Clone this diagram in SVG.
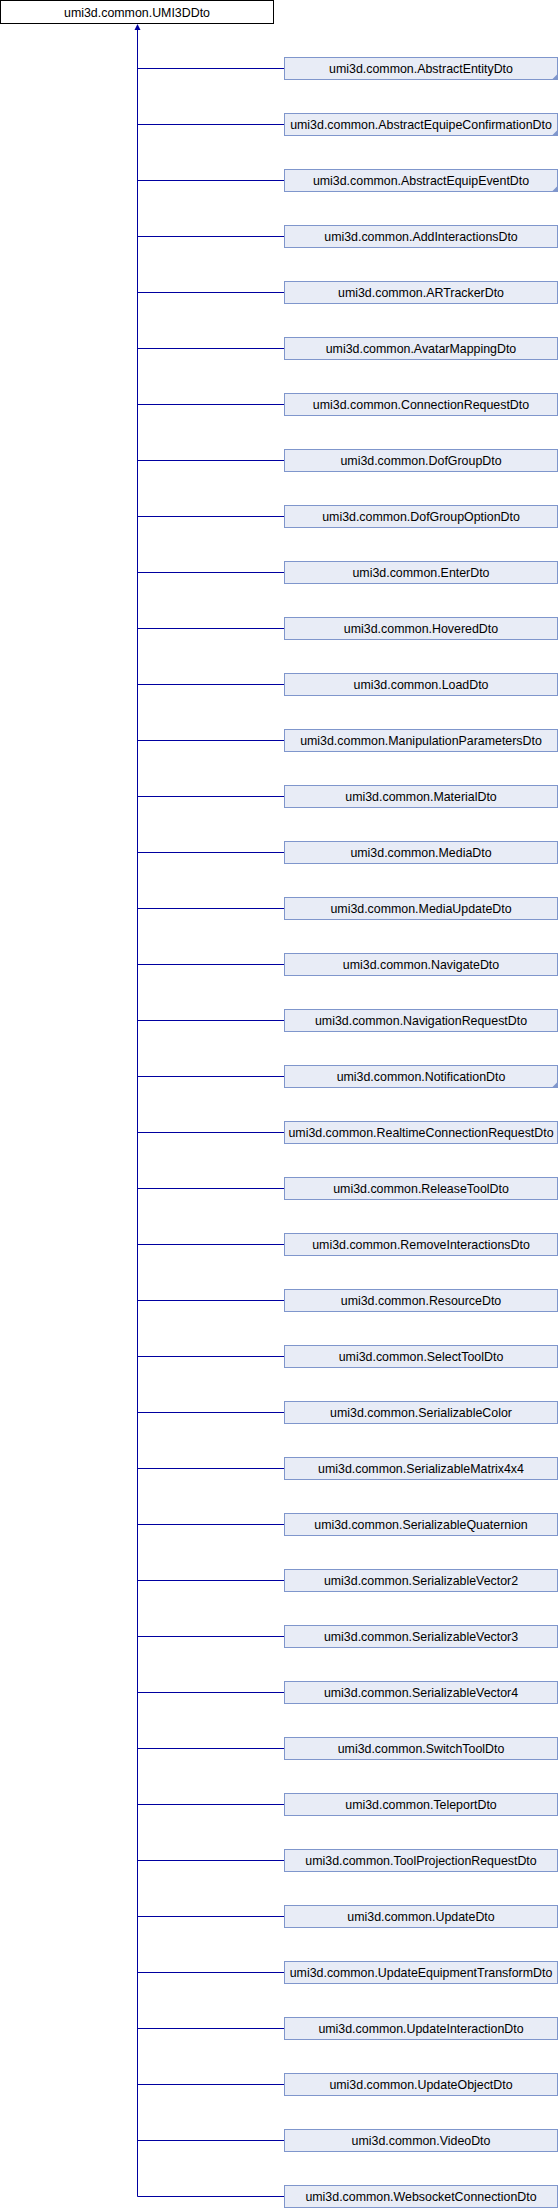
<svg xmlns="http://www.w3.org/2000/svg" width="558" height="2208" viewBox="0 0 558 2208">
<style>
text{font-family:"Liberation Sans",Arial,sans-serif;font-size:12.4px;fill:#000;text-anchor:middle}
.c rect{fill:#e8ecf6;stroke:#7f96cc;stroke-width:1}
.c polygon{fill:#7f96cc}
.conn{stroke:#0000a0;stroke-width:1;fill:none}
</style>
<rect width="558" height="2208" fill="#fff"/>
<g id="connectors">
<path class="conn" d="M137.5,29V2196.5 M137.5,68.5H284 M137.5,124.5H284 M137.5,180.5H284 M137.5,236.5H284 M137.5,292.5H284 M137.5,348.5H284 M137.5,404.5H284 M137.5,460.5H284 M137.5,516.5H284 M137.5,572.5H284 M137.5,628.5H284 M137.5,684.5H284 M137.5,740.5H284 M137.5,796.5H284 M137.5,852.5H284 M137.5,908.5H284 M137.5,964.5H284 M137.5,1020.5H284 M137.5,1076.5H284 M137.5,1132.5H284 M137.5,1188.5H284 M137.5,1244.5H284 M137.5,1300.5H284 M137.5,1356.5H284 M137.5,1412.5H284 M137.5,1468.5H284 M137.5,1524.5H284 M137.5,1580.5H284 M137.5,1636.5H284 M137.5,1692.5H284 M137.5,1748.5H284 M137.5,1804.5H284 M137.5,1860.5H284 M137.5,1916.5H284 M137.5,1972.5H284 M137.5,2028.5H284 M137.5,2084.5H284 M137.5,2140.5H284 M137.5,2196.5H284"/>
<polygon points="137.5,24 140.5,30 134.5,30" fill="#0000a0"/>
</g>
<g id="root">
<rect x="0.5" y="0.5" width="273" height="23" fill="#fff" stroke="#000"/>
<text x="137" y="16.5">umi3d.common.UMI3DDto</text>
</g>
<g id="n1" class="c"><rect x="284.5" y="57.5" width="273" height="22"/><polygon points="558,73.5 558,80 551.5,80"/><text x="421" y="73">umi3d.common.AbstractEntityDto</text></g>
<g id="n2" class="c" transform="translate(0,56)"><rect x="284.5" y="57.5" width="273" height="22"/><polygon points="558,73.5 558,80 551.5,80"/><text x="421" y="73">umi3d.common.AbstractEquipeConfirmationDto</text></g>
<g id="n3" class="c" transform="translate(0,112)"><rect x="284.5" y="57.5" width="273" height="22"/><polygon points="558,73.5 558,80 551.5,80"/><text x="421" y="73">umi3d.common.AbstractEquipEventDto</text></g>
<g id="n4" class="c" transform="translate(0,168)"><rect x="284.5" y="57.5" width="273" height="22"/><text x="421" y="73">umi3d.common.AddInteractionsDto</text></g>
<g id="n5" class="c" transform="translate(0,224)"><rect x="284.5" y="57.5" width="273" height="22"/><text x="421" y="73">umi3d.common.ARTrackerDto</text></g>
<g id="n6" class="c" transform="translate(0,280)"><rect x="284.5" y="57.5" width="273" height="22"/><text x="421" y="73">umi3d.common.AvatarMappingDto</text></g>
<g id="n7" class="c" transform="translate(0,336)"><rect x="284.5" y="57.5" width="273" height="22"/><text x="421" y="73">umi3d.common.ConnectionRequestDto</text></g>
<g id="n8" class="c" transform="translate(0,392)"><rect x="284.5" y="57.5" width="273" height="22"/><text x="421" y="73">umi3d.common.DofGroupDto</text></g>
<g id="n9" class="c" transform="translate(0,448)"><rect x="284.5" y="57.5" width="273" height="22"/><text x="421" y="73">umi3d.common.DofGroupOptionDto</text></g>
<g id="n10" class="c" transform="translate(0,504)"><rect x="284.5" y="57.5" width="273" height="22"/><text x="421" y="73">umi3d.common.EnterDto</text></g>
<g id="n11" class="c" transform="translate(0,560)"><rect x="284.5" y="57.5" width="273" height="22"/><text x="421" y="73">umi3d.common.HoveredDto</text></g>
<g id="n12" class="c" transform="translate(0,616)"><rect x="284.5" y="57.5" width="273" height="22"/><text x="421" y="73">umi3d.common.LoadDto</text></g>
<g id="n13" class="c" transform="translate(0,672)"><rect x="284.5" y="57.5" width="273" height="22"/><text x="421" y="73">umi3d.common.ManipulationParametersDto</text></g>
<g id="n14" class="c" transform="translate(0,728)"><rect x="284.5" y="57.5" width="273" height="22"/><text x="421" y="73">umi3d.common.MaterialDto</text></g>
<g id="n15" class="c" transform="translate(0,784)"><rect x="284.5" y="57.5" width="273" height="22"/><text x="421" y="73">umi3d.common.MediaDto</text></g>
<g id="n16" class="c" transform="translate(0,840)"><rect x="284.5" y="57.5" width="273" height="22"/><text x="421" y="73">umi3d.common.MediaUpdateDto</text></g>
<g id="n17" class="c" transform="translate(0,896)"><rect x="284.5" y="57.5" width="273" height="22"/><text x="421" y="73">umi3d.common.NavigateDto</text></g>
<g id="n18" class="c" transform="translate(0,952)"><rect x="284.5" y="57.5" width="273" height="22"/><text x="421" y="73">umi3d.common.NavigationRequestDto</text></g>
<g id="n19" class="c" transform="translate(0,1008)"><rect x="284.5" y="57.5" width="273" height="22"/><polygon points="558,73.5 558,80 551.5,80"/><text x="421" y="73">umi3d.common.NotificationDto</text></g>
<g id="n20" class="c" transform="translate(0,1064)"><rect x="284.5" y="57.5" width="273" height="22"/><text x="421" y="73">umi3d.common.RealtimeConnectionRequestDto</text></g>
<g id="n21" class="c" transform="translate(0,1120)"><rect x="284.5" y="57.5" width="273" height="22"/><text x="421" y="73">umi3d.common.ReleaseToolDto</text></g>
<g id="n22" class="c" transform="translate(0,1176)"><rect x="284.5" y="57.5" width="273" height="22"/><text x="421" y="73">umi3d.common.RemoveInteractionsDto</text></g>
<g id="n23" class="c" transform="translate(0,1232)"><rect x="284.5" y="57.5" width="273" height="22"/><text x="421" y="73">umi3d.common.ResourceDto</text></g>
<g id="n24" class="c" transform="translate(0,1288)"><rect x="284.5" y="57.5" width="273" height="22"/><text x="421" y="73">umi3d.common.SelectToolDto</text></g>
<g id="n25" class="c" transform="translate(0,1344)"><rect x="284.5" y="57.5" width="273" height="22"/><text x="421" y="73">umi3d.common.SerializableColor</text></g>
<g id="n26" class="c" transform="translate(0,1400)"><rect x="284.5" y="57.5" width="273" height="22"/><text x="421" y="73">umi3d.common.SerializableMatrix4x4</text></g>
<g id="n27" class="c" transform="translate(0,1456)"><rect x="284.5" y="57.5" width="273" height="22"/><text x="421" y="73">umi3d.common.SerializableQuaternion</text></g>
<g id="n28" class="c" transform="translate(0,1512)"><rect x="284.5" y="57.5" width="273" height="22"/><text x="421" y="73">umi3d.common.SerializableVector2</text></g>
<g id="n29" class="c" transform="translate(0,1568)"><rect x="284.5" y="57.5" width="273" height="22"/><text x="421" y="73">umi3d.common.SerializableVector3</text></g>
<g id="n30" class="c" transform="translate(0,1624)"><rect x="284.5" y="57.5" width="273" height="22"/><text x="421" y="73">umi3d.common.SerializableVector4</text></g>
<g id="n31" class="c" transform="translate(0,1680)"><rect x="284.5" y="57.5" width="273" height="22"/><text x="421" y="73">umi3d.common.SwitchToolDto</text></g>
<g id="n32" class="c" transform="translate(0,1736)"><rect x="284.5" y="57.5" width="273" height="22"/><text x="421" y="73">umi3d.common.TeleportDto</text></g>
<g id="n33" class="c" transform="translate(0,1792)"><rect x="284.5" y="57.5" width="273" height="22"/><text x="421" y="73">umi3d.common.ToolProjectionRequestDto</text></g>
<g id="n34" class="c" transform="translate(0,1848)"><rect x="284.5" y="57.5" width="273" height="22"/><text x="421" y="73">umi3d.common.UpdateDto</text></g>
<g id="n35" class="c" transform="translate(0,1904)"><rect x="284.5" y="57.5" width="273" height="22"/><text x="421" y="73">umi3d.common.UpdateEquipmentTransformDto</text></g>
<g id="n36" class="c" transform="translate(0,1960)"><rect x="284.5" y="57.5" width="273" height="22"/><text x="421" y="73">umi3d.common.UpdateInteractionDto</text></g>
<g id="n37" class="c" transform="translate(0,2016)"><rect x="284.5" y="57.5" width="273" height="22"/><text x="421" y="73">umi3d.common.UpdateObjectDto</text></g>
<g id="n38" class="c" transform="translate(0,2072)"><rect x="284.5" y="57.5" width="273" height="22"/><text x="421" y="73">umi3d.common.VideoDto</text></g>
<g id="n39" class="c" transform="translate(0,2128)"><rect x="284.5" y="57.5" width="273" height="22"/><text x="421" y="73">umi3d.common.WebsocketConnectionDto</text></g>
</svg>
